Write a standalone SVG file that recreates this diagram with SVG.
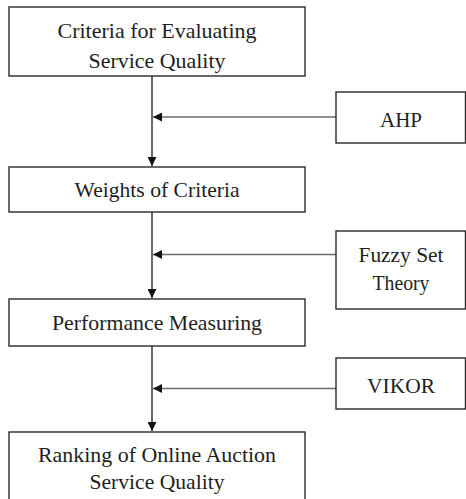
<svg xmlns="http://www.w3.org/2000/svg" width="466" height="499" viewBox="0 0 466 499">
  <style>
    .box { fill: #ffffff; stroke: #2a2a2a; stroke-width: 1.4; }
    .flow { stroke: #2a2a2a; stroke-width: 1.4; fill: none; }
    .feed { stroke: #6a6a6a; stroke-width: 1.6; fill: none; }
  </style>
  <defs>
    <marker id="tri" viewBox="0 0 10 10" refX="10" refY="5" markerWidth="10" markerHeight="9" markerUnits="userSpaceOnUse" orient="auto">
      <path d="M0,0 L10,5 L0,10 Z" fill="#111111"/>
    </marker>
  </defs>

  <rect width="466" height="499" fill="#ffffff"/>

  <g id="connectors">
    <line class="flow" x1="152" y1="76" x2="152" y2="166" marker-end="url(#tri)"/>
    <line class="flow" x1="152" y1="212" x2="152" y2="298" marker-end="url(#tri)"/>
    <line class="flow" x1="152" y1="346" x2="152" y2="431" marker-end="url(#tri)"/>
    <line class="feed" x1="336" y1="117" x2="153" y2="117" marker-end="url(#tri)"/>
    <line class="feed" x1="336" y1="254.5" x2="153" y2="254.5" marker-end="url(#tri)"/>
    <line class="feed" x1="336" y1="388.5" x2="153" y2="388.5" marker-end="url(#tri)"/>
  </g>

  <!-- labels are placed by their left edge; widths fixed with textLength -->
  <g id="criteria">
    <rect class="box" x="9" y="7" width="296" height="69"/>
    <text x="57.5" y="37.5" font-family="Liberation Serif" font-size="21" fill="#1e1e1e" textLength="199" lengthAdjust="spacingAndGlyphs">Criteria for Evaluating</text>
    <text x="88.5" y="67.5" font-family="Liberation Serif" font-size="21" fill="#1e1e1e" textLength="137" lengthAdjust="spacingAndGlyphs">Service Quality</text>
  </g>

  <g id="ahp">
    <rect class="box" x="336" y="92" width="129.5" height="51"/>
    <text x="380" y="127" font-family="Liberation Serif" font-size="21" fill="#1e1e1e" textLength="42" lengthAdjust="spacingAndGlyphs">AHP</text>
  </g>

  <g id="weights">
    <rect class="box" x="9" y="167" width="296" height="45"/>
    <text x="74.5" y="197" font-family="Liberation Serif" font-size="21" fill="#1e1e1e" textLength="165" lengthAdjust="spacingAndGlyphs">Weights of Criteria</text>
  </g>

  <g id="fuzzy">
    <rect class="box" x="336" y="231" width="129.5" height="78"/>
    <text x="358.5" y="262" font-family="Liberation Serif" font-size="21" fill="#1e1e1e" textLength="85" lengthAdjust="spacingAndGlyphs">Fuzzy Set</text>
    <text x="372.5" y="290" font-family="Liberation Serif" font-size="21" fill="#1e1e1e" textLength="57" lengthAdjust="spacingAndGlyphs">Theory</text>
  </g>

  <g id="performance">
    <rect class="box" x="9" y="299" width="296" height="47"/>
    <text x="52" y="329.5" font-family="Liberation Serif" font-size="21" fill="#1e1e1e" textLength="210" lengthAdjust="spacingAndGlyphs">Performance Measuring</text>
  </g>

  <g id="vikor">
    <rect class="box" x="336" y="358" width="129.5" height="51"/>
    <text x="367" y="392.5" font-family="Liberation Serif" font-size="21" fill="#1e1e1e" textLength="68" lengthAdjust="spacingAndGlyphs">VIKOR</text>
  </g>

  <g id="ranking">
    <rect class="box" x="9" y="432" width="296" height="75"/>
    <text x="38" y="462" font-family="Liberation Serif" font-size="21" fill="#1e1e1e" textLength="238" lengthAdjust="spacingAndGlyphs">Ranking of Online Auction</text>
    <text x="89.5" y="488.5" font-family="Liberation Serif" font-size="21" fill="#1e1e1e" textLength="135" lengthAdjust="spacingAndGlyphs">Service Quality</text>
  </g>
</svg>
